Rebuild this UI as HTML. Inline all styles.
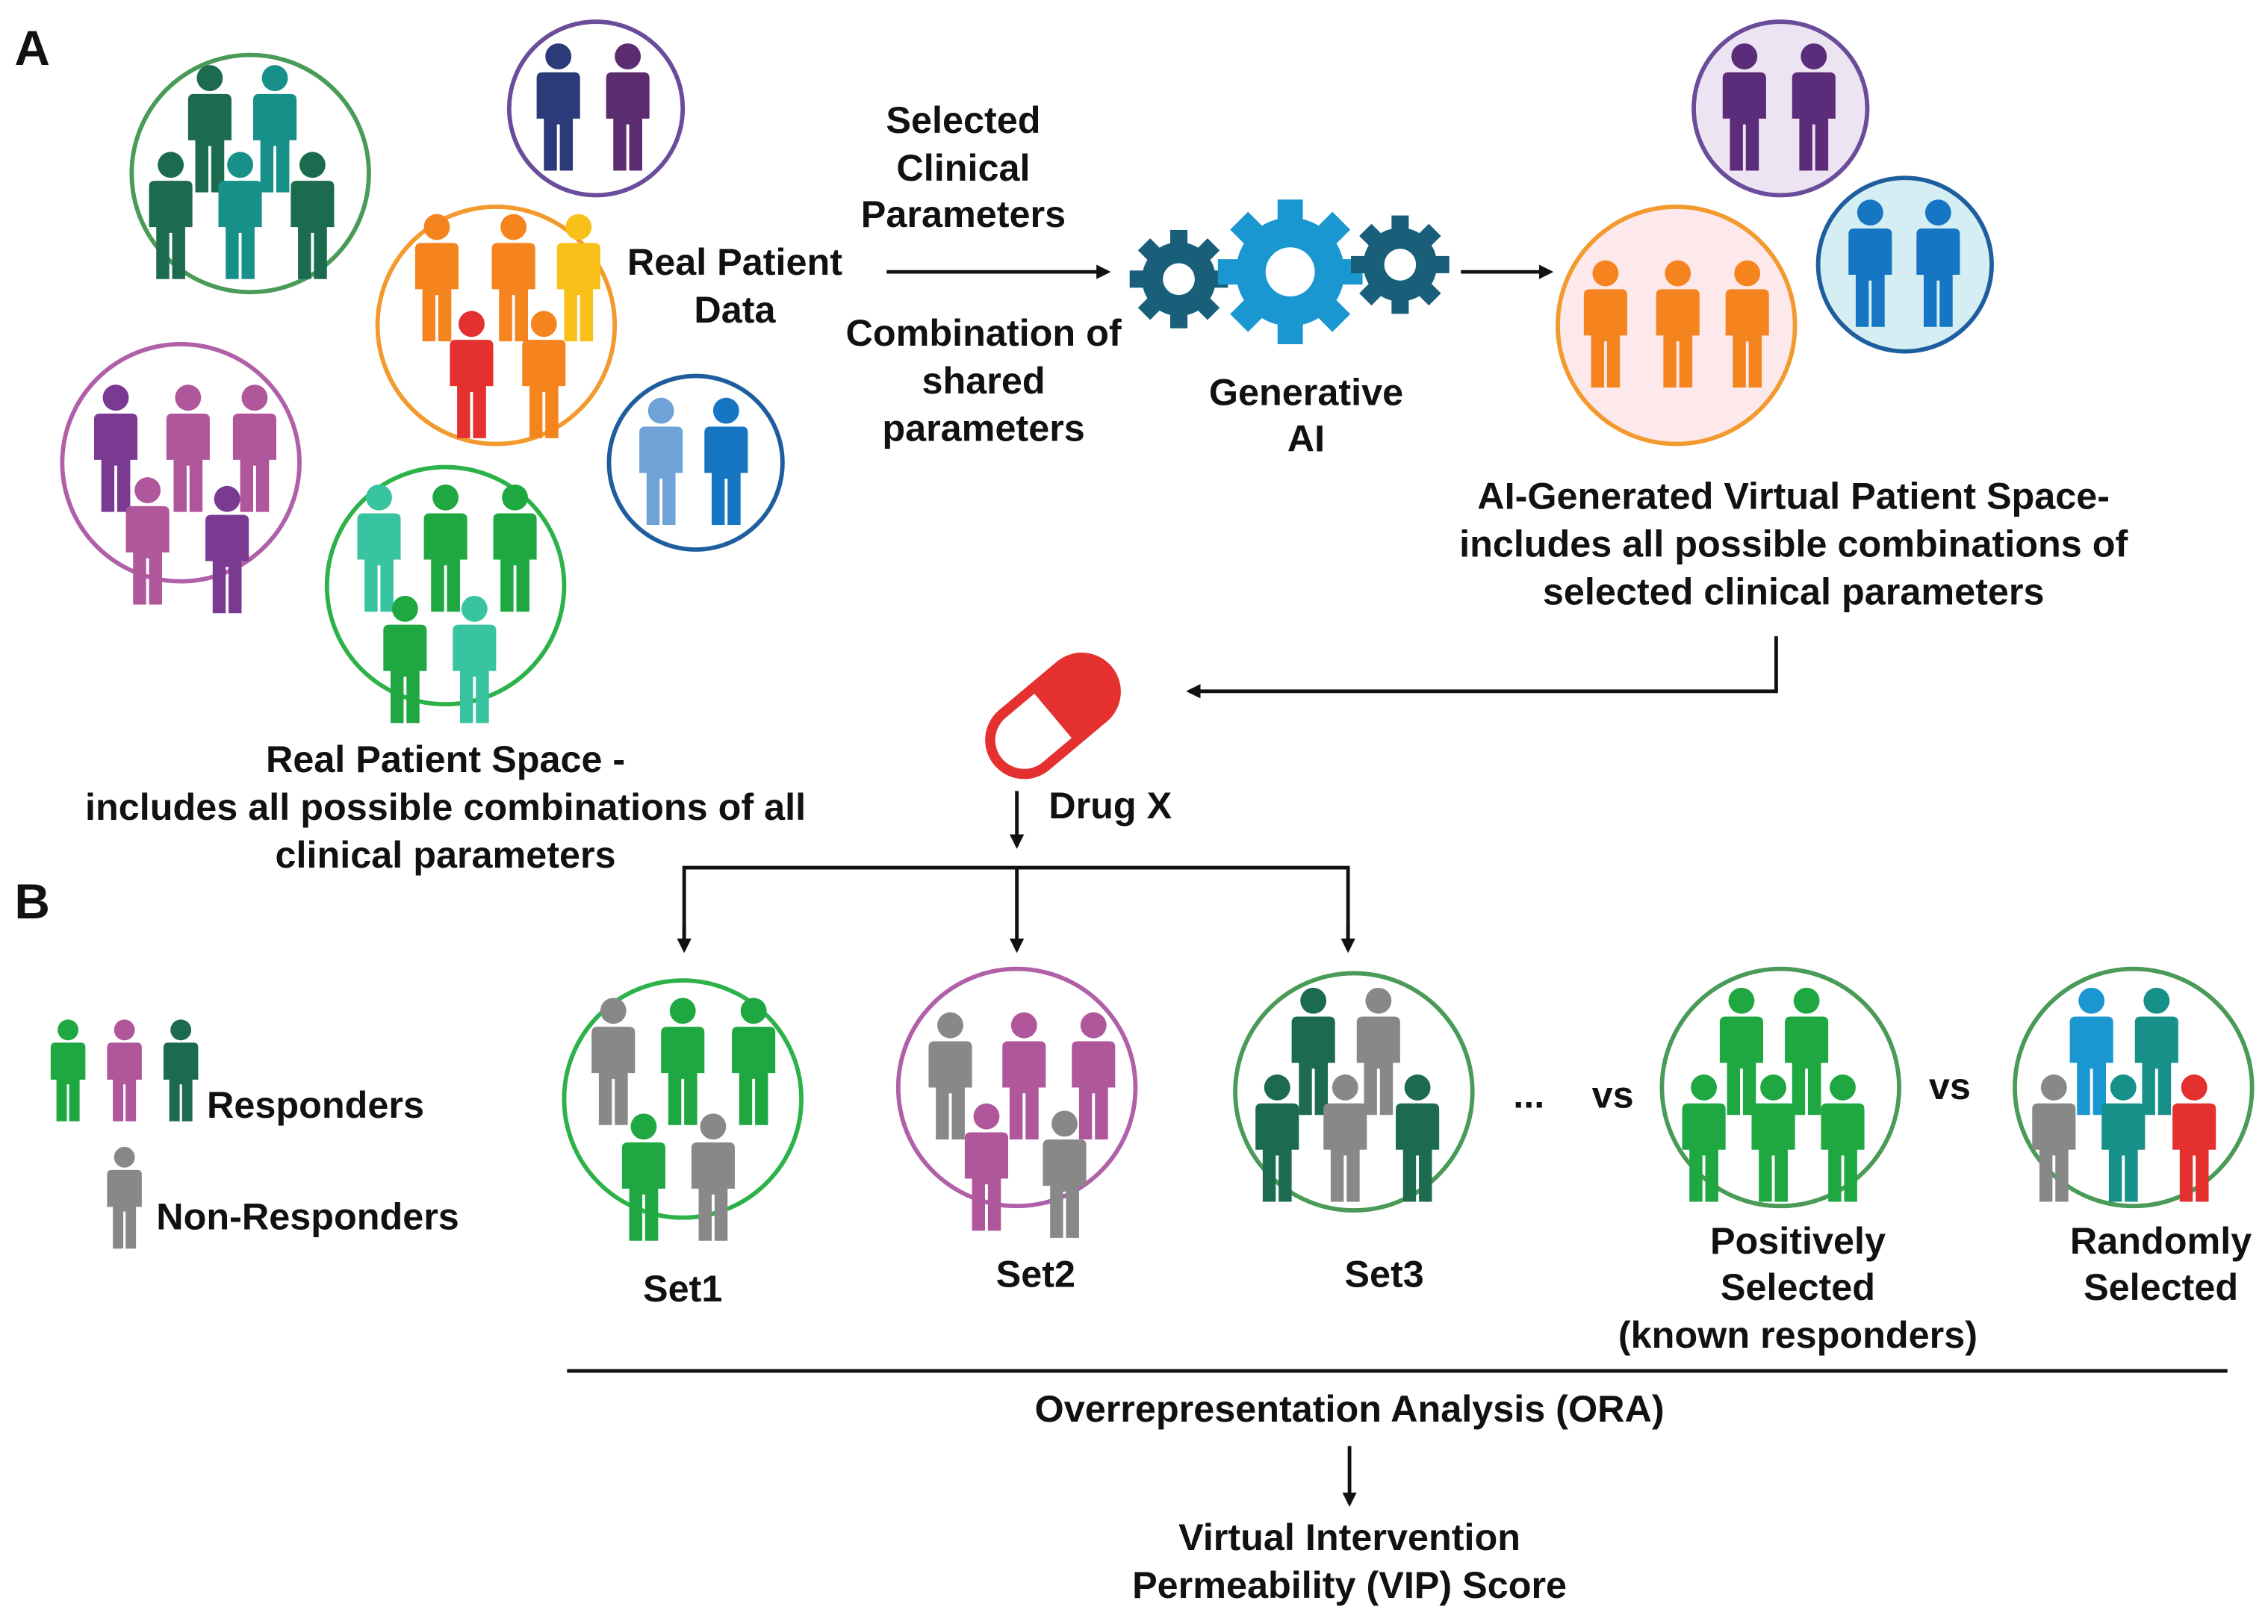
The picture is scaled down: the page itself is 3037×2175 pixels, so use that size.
<!DOCTYPE html>
<html><head><meta charset="utf-8"><style>
html,body{margin:0;padding:0;background:#fff;}
svg{display:block;}
text{font-family:"Liberation Sans",sans-serif;font-weight:bold;fill:#111;}
</style></head><body>
<svg width="3037" height="2175" viewBox="0 0 1568 1123" xmlns="http://www.w3.org/2000/svg">
<defs>
<g id="p">
<circle cx="0" cy="9" r="9"/>
<path d="M-15,24 Q-15,20 -11,20 L11,20 Q15,20 15,24 L15,52 L10,52 L10,88 L1,88 L1,56 L-1,56 L-1,88 L-10,88 L-10,52 L-15,52 Z"/>
</g>
<marker id="ah" markerWidth="10" markerHeight="10" refX="8" refY="5" orient="auto" markerUnits="userSpaceOnUse">
<path d="M0,0 L10,5 L0,10 Z" fill="#111"/></marker>
<g id="gear">
<circle r="30"/>
<g>
<rect x="-7" y="-40" width="14" height="80"/>
<rect x="-7" y="-40" width="14" height="80" transform="rotate(45)"/>
<rect x="-7" y="-40" width="14" height="80" transform="rotate(90)"/>
<rect x="-7" y="-40" width="14" height="80" transform="rotate(135)"/>
</g>
</g>
</defs>

<text x="10" y="45" font-size="34">A</text>
<text x="10" y="635" font-size="34">B</text>

<circle cx="173" cy="120" r="82" fill="#fff" stroke="#4a9a58" stroke-width="3"/>
<use href="#p" x="145" y="45" fill="#1d6b4f"/>
<use href="#p" x="190" y="45" fill="#17908a"/>
<use href="#p" x="118" y="105" fill="#1d6b4f"/>
<use href="#p" x="166" y="105" fill="#17908a"/>
<use href="#p" x="216" y="105" fill="#1d6b4f"/>

<circle cx="412" cy="75" r="60" fill="#fff" stroke="#6b4c9a" stroke-width="3"/>
<use href="#p" x="386" y="30" fill="#2b3a78"/>
<use href="#p" x="434" y="30" fill="#5b2c6f"/>

<circle cx="343" cy="225" r="82" fill="#fff" stroke="#f39a2e" stroke-width="3"/>
<use href="#p" x="302" y="148" fill="#f5841f"/>
<use href="#p" x="355" y="148" fill="#f5841f"/>
<use href="#p" x="400" y="148" fill="#f9c01a"/>
<use href="#p" x="326" y="215" fill="#e53030"/>
<use href="#p" x="376" y="215" fill="#f5841f"/>

<circle cx="125" cy="320" r="82" fill="#fff" stroke="#b060a8" stroke-width="3"/>
<use href="#p" x="80" y="266" fill="#7b3a92"/>
<use href="#p" x="130" y="266" fill="#b0579c"/>
<use href="#p" x="176" y="266" fill="#b0579c"/>
<use href="#p" x="102" y="330" fill="#b0579c"/>
<use href="#p" x="157" y="336" fill="#7b3a92"/>

<circle cx="481" cy="320" r="60" fill="#fff" stroke="#1f5e9e" stroke-width="3"/>
<use href="#p" x="457" y="275" fill="#6fa3d8"/>
<use href="#p" x="502" y="275" fill="#1676c4"/>

<circle cx="308" cy="405" r="82" fill="#fff" stroke="#2db24a" stroke-width="3"/>
<use href="#p" x="262" y="335" fill="#38c4a0"/>
<use href="#p" x="308" y="335" fill="#1fa842"/>
<use href="#p" x="356" y="335" fill="#1fa842"/>
<use href="#p" x="280" y="412" fill="#1fa842"/>
<use href="#p" x="328" y="412" fill="#38c4a0"/>

<g font-size="26" text-anchor="middle">
<text x="508" y="190">Real Patient</text>
<text x="508" y="223">Data</text>
<text x="308" y="534">Real Patient Space -</text>
<text x="308" y="567">includes all possible combinations of all</text>
<text x="308" y="600">clinical parameters</text>
<text x="666" y="92">Selected</text>
<text x="666" y="125">Clinical</text>
<text x="666" y="157">Parameters</text>
<text x="680" y="239">Combination of</text>
<text x="680" y="272">shared</text>
<text x="680" y="305">parameters</text>
<text x="903" y="280">Generative</text>
<text x="903" y="312">AI</text>
<text x="1240" y="352">AI-Generated Virtual Patient Space-</text>
<text x="1240" y="385">includes all possible combinations of</text>
<text x="1240" y="418">selected clinical parameters</text>
</g>

<line x1="613" y1="188" x2="766" y2="188" stroke="#111" stroke-width="2.5" marker-end="url(#ah)"/>
<line x1="1010" y1="188" x2="1072" y2="188" stroke="#111" stroke-width="2.5" marker-end="url(#ah)"/>

<g fill="#1a5f7a"><use href="#gear" transform="translate(815,193) scale(0.85)"/></g>
<circle cx="815" cy="193" r="11" fill="#fff"/>
<g fill="#1a96d0"><use href="#gear" transform="translate(892,188) scale(1.25)"/></g>
<circle cx="892" cy="188" r="17" fill="#fff"/>
<g fill="#1a5f7a"><use href="#gear" transform="translate(968,183) scale(0.85)"/></g>
<circle cx="968" cy="183" r="11" fill="#fff"/>

<circle cx="1231" cy="75" r="60" fill="#ece4f2" stroke="#6b4c9a" stroke-width="3"/>
<use href="#p" x="1206" y="30" fill="#5b2c7a"/>
<use href="#p" x="1254" y="30" fill="#5b2c7a"/>
<circle cx="1159" cy="225" r="82" fill="#fde9ec" stroke="#f39a2e" stroke-width="3"/>
<use href="#p" x="1110" y="180" fill="#f5841f"/>
<use href="#p" x="1160" y="180" fill="#f5841f"/>
<use href="#p" x="1208" y="180" fill="#f5841f"/>
<circle cx="1317" cy="183" r="60" fill="#d4eef3" stroke="#1f5e9e" stroke-width="3"/>
<use href="#p" x="1293" y="138" fill="#1676c4"/>
<use href="#p" x="1340" y="138" fill="#1676c4"/>

<polyline points="1228,440 1228,478 822,478" fill="none" stroke="#111" stroke-width="2.5" marker-end="url(#ah)"/>

<g transform="translate(728,495) rotate(-40)">
<rect x="-50" y="-24" width="100" height="48" rx="24" fill="#e53030"/>
<path d="M0,-20 L-26,-20 A20,20 0 0 0 -26,20 L0,20 Z" fill="#fff"/>
<rect x="-50" y="-24" width="100" height="48" rx="24" fill="none" stroke="#e53030" stroke-width="6"/>
</g>
<text x="725" y="566" font-size="26">Drug X</text>
<line x1="703" y1="547" x2="703" y2="585" stroke="#111" stroke-width="2.5" marker-end="url(#ah)"/>
<polyline points="473,655 473,600 932,600 932,655" fill="none" stroke="#111" stroke-width="2.5"/>
<line x1="473" y1="640" x2="473" y2="657" stroke="#111" stroke-width="2.5" marker-end="url(#ah)"/>
<line x1="703" y1="600" x2="703" y2="657" stroke="#111" stroke-width="2.5" marker-end="url(#ah)"/>
<line x1="932" y1="640" x2="932" y2="657" stroke="#111" stroke-width="2.5" marker-end="url(#ah)"/>

<use href="#p" transform="translate(47,705) scale(0.8)" fill="#1fa842"/>
<use href="#p" transform="translate(86,705) scale(0.8)" fill="#b0579c"/>
<use href="#p" transform="translate(125,705) scale(0.8)" fill="#1d6b4f"/>
<use href="#p" transform="translate(86,793) scale(0.8)" fill="#888"/>
<text x="143" y="773" font-size="26">Responders</text>
<text x="108" y="850" font-size="26">Non-Responders</text>

<circle cx="472" cy="760" r="82" fill="#fff" stroke="#2db24a" stroke-width="3"/>
<use href="#p" x="424" y="690" fill="#888"/>
<use href="#p" x="472" y="690" fill="#1fa842"/>
<use href="#p" x="521" y="690" fill="#1fa842"/>
<use href="#p" x="445" y="770" fill="#1fa842"/>
<use href="#p" x="493" y="770" fill="#888"/>

<circle cx="703" cy="752" r="82" fill="#fff" stroke="#b060a8" stroke-width="3"/>
<use href="#p" x="657" y="700" fill="#888"/>
<use href="#p" x="708" y="700" fill="#b0579c"/>
<use href="#p" x="756" y="700" fill="#b0579c"/>
<use href="#p" x="682" y="763" fill="#b0579c"/>
<use href="#p" x="736" y="768" fill="#888"/>

<circle cx="936" cy="755" r="82" fill="#fff" stroke="#4a9a58" stroke-width="3"/>
<use href="#p" x="908" y="683" fill="#1d6b4f"/>
<use href="#p" x="953" y="683" fill="#888"/>
<use href="#p" x="883" y="743" fill="#1d6b4f"/>
<use href="#p" x="930" y="743" fill="#888"/>
<use href="#p" x="980" y="743" fill="#1d6b4f"/>

<circle cx="1231" cy="752" r="82" fill="#fff" stroke="#4a9a58" stroke-width="3"/>
<use href="#p" x="1204" y="683" fill="#1fa842"/>
<use href="#p" x="1249" y="683" fill="#1fa842"/>
<use href="#p" x="1178" y="743" fill="#1fa842"/>
<use href="#p" x="1226" y="743" fill="#1fa842"/>
<use href="#p" x="1274" y="743" fill="#1fa842"/>

<circle cx="1475" cy="752" r="82" fill="#fff" stroke="#4a9a58" stroke-width="3"/>
<use href="#p" x="1446" y="683" fill="#1a96d0"/>
<use href="#p" x="1491" y="683" fill="#17908a"/>
<use href="#p" x="1420" y="743" fill="#888"/>
<use href="#p" x="1468" y="743" fill="#17908a"/>
<use href="#p" x="1517" y="743" fill="#e53030"/>

<g font-size="26" text-anchor="middle">
<text x="1057" y="766">...</text>
<text x="1115" y="766">vs</text>
<text x="1348" y="760">vs</text>
<text x="472" y="900">Set1</text>
<text x="716" y="890">Set2</text>
<text x="957" y="890">Set3</text>
<text x="1243" y="867">Positively</text>
<text x="1243" y="899">Selected</text>
<text x="1243" y="932">(known responders)</text>
<text x="1494" y="867">Randomly</text>
<text x="1494" y="899">Selected</text>
<text x="933" y="983">Overrepresentation Analysis (ORA)</text>
<text x="933" y="1072">Virtual Intervention</text>
<text x="933" y="1105">Permeability (VIP) Score</text>
</g>
<line x1="392" y1="948" x2="1540" y2="948" stroke="#111" stroke-width="2.5"/>
<line x1="933" y1="1000" x2="933" y2="1040" stroke="#111" stroke-width="2.5" marker-end="url(#ah)"/>
</svg>
</body></html>
